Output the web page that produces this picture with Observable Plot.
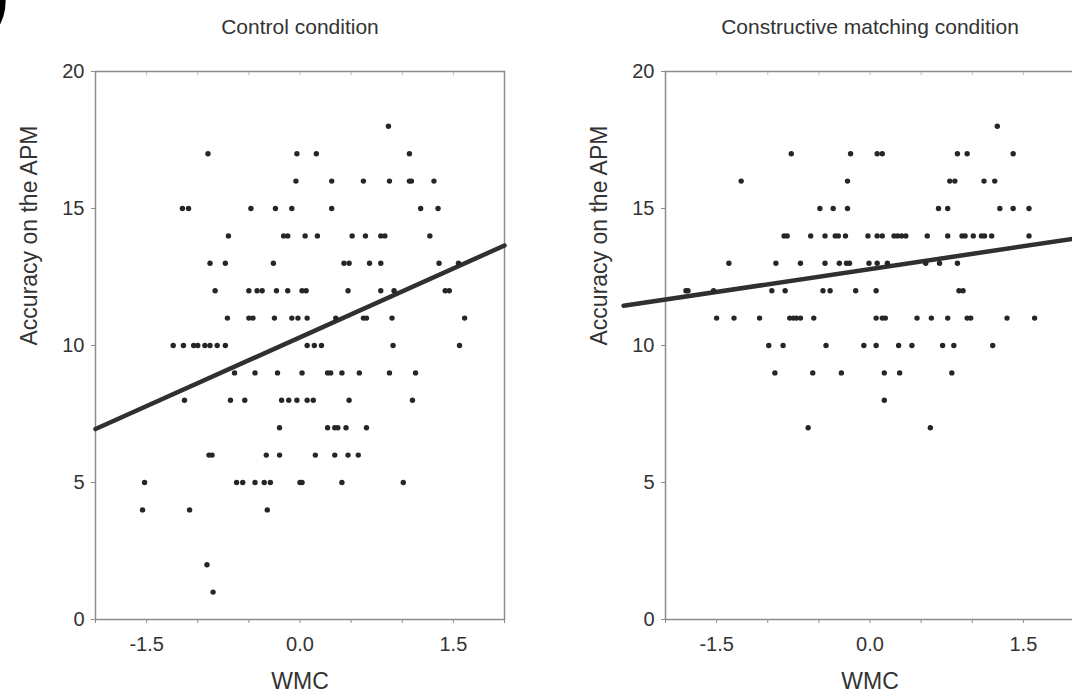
<!DOCTYPE html>
<html>
<head>
<meta charset="utf-8">
<script src="https://cdn.jsdelivr.net/npm/d3@7"></script>
<script src="https://cdn.jsdelivr.net/npm/@observablehq/plot@0.6"></script>
<style>
  html, body { margin: 0; padding: 0; background: #fff; overflow: hidden; }
  #wrap { position: relative; width: 1072px; height: 700px; overflow: hidden; background: #fff; }
  #wrap > svg, #wrap > div { position: absolute; top: 0; }
</style>
</head>
<body>
<div id="wrap"></div>
<script>
// ---- Data ----
const panelTitles = ["Control condition", "Constructive matching condition"];
const xLabel = "WMC";
const yLabel = "Accuracy on the APM";
const xTicks = [-2, -1.5, -1, -0.5, 0, 0.5, 1, 1.5, 2];
const xTickLabels = [-1.5, 0, 1.5];
const yTicks = [0, 5, 10, 15, 20];

// Control condition: WMC (x) and APM accuracy (y)
const controlWMC = [
  0.865,
  -0.90, -0.03, 0.16, 1.07,
  -0.04, 0.31, 0.62, 0.875, 1.07, 1.09, 1.31,
  -1.15, -1.09, -0.48, -0.24, -0.08, 0.31, 1.18, 1.35,
  -0.70, -0.16, -0.12, 0.05, 0.17, 0.51, 0.64, 0.79, 0.83, 1.27,
  -0.88, -0.73, -0.26, 0.43, 0.48, 0.68, 0.79, 1.36, 1.55,
  -0.83, -0.50, -0.42, -0.37, -0.23, -0.12, 0.02, 0.06, 0.47, 0.79, 0.92, 1.42, 1.46,
  -0.71, -0.50, -0.46, -0.25, -0.08, -0.02, 0.07, 0.35, 0.62, 0.65, 0.90, 1.61,
  -1.24, -1.14, -1.04, -1.00, -0.93, -0.88, -0.81, -0.73, 0.07, 0.14, 0.21, 0.91, 1.56,
  -0.64, -0.44, -0.22, 0.02, 0.27, 0.30, 0.41, 0.58, 0.875, 1.13,
  -1.13, -0.68, -0.54, -0.18, -0.11, -0.03, 0.07, 0.13, 0.48, 1.10,
  -0.20, 0.27, 0.34, 0.37, 0.45, 0.65,
  -0.89, -0.86, -0.33, -0.20, 0.15, 0.34, 0.47, 0.57,
  -1.52, -0.62, -0.56, -0.44, -0.35, -0.29, 0.00, 0.02, 0.41, 1.01,
  -1.54, -1.08, -0.32,
  -0.91,
  -0.85
];
const controlAPM = [
  18,
  17, 17, 17, 17,
  16, 16, 16, 16, 16, 16, 16,
  15, 15, 15, 15, 15, 15, 15, 15,
  14, 14, 14, 14, 14, 14, 14, 14, 14, 14,
  13, 13, 13, 13, 13, 13, 13, 13, 13,
  12, 12, 12, 12, 12, 12, 12, 12, 12, 12, 12, 12, 12,
  11, 11, 11, 11, 11, 11, 11, 11, 11, 11, 11, 11,
  10, 10, 10, 10, 10, 10, 10, 10, 10, 10, 10, 10, 10,
  9, 9, 9, 9, 9, 9, 9, 9, 9, 9,
  8, 8, 8, 8, 8, 8, 8, 8, 8, 8,
  7, 7, 7, 7, 7, 7,
  6, 6, 6, 6, 6, 6, 6, 6,
  5, 5, 5, 5, 5, 5, 5, 5, 5, 5,
  4, 4, 4,
  2,
  1
];
const controlFitX = [-2, 2];
const controlFitY = [6.95, 13.65];

// Constructive matching condition
const constructiveWMC = [
  1.245,
  -0.77, -0.19, 0.07, 0.12, 0.855, 0.95, 1.40,
  -1.26, -0.22, 0.78, 0.83, 1.115, 1.22,
  -0.49, -0.36, -0.22, 0.67, 0.76, 1.27, 1.40, 1.555,
  -0.84, -0.81, -0.58, -0.44, -0.34, -0.31, -0.24, -0.02, 0.07, 0.12, 0.235, 0.27, 0.31, 0.35, 0.56, 0.76, 0.90, 0.93, 1.01, 1.09, 1.12, 1.19, 1.555,
  -1.38, -0.92, -0.68, -0.44, -0.30, -0.23, -0.20, -0.01, 0.07, 0.17, 0.545, 0.68, 0.855,
  -1.80, -1.78, -1.53, -0.96, -0.83, -0.46, -0.39, -0.14, 0.06, 0.87, 0.91,
  -1.50, -1.33, -1.08, -0.785, -0.75, -0.72, -0.68, -0.55, 0.06, 0.12, 0.15, 0.46, 0.60, 0.76, 0.95, 0.985, 1.34, 1.61,
  -0.99, -0.85, -0.43, -0.06, 0.06, 0.28, 0.41, 0.71, 0.82, 1.20,
  -0.93, -0.56, -0.28, 0.14, 0.29, 0.80,
  0.14,
  -0.605, 0.59
];
const constructiveAPM = [
  18,
  17, 17, 17, 17, 17, 17, 17,
  16, 16, 16, 16, 16, 16,
  15, 15, 15, 15, 15, 15, 15, 15,
  14, 14, 14, 14, 14, 14, 14, 14, 14, 14, 14, 14, 14, 14, 14, 14, 14, 14, 14, 14, 14, 14, 14,
  13, 13, 13, 13, 13, 13, 13, 13, 13, 13, 13, 13, 13,
  12, 12, 12, 12, 12, 12, 12, 12, 12, 12, 12,
  11, 11, 11, 11, 11, 11, 11, 11, 11, 11, 11, 11, 11, 11, 11, 11, 11, 11,
  10, 10, 10, 10, 10, 10, 10, 10, 10, 10,
  9, 9, 9, 9, 9, 9,
  8,
  7, 7
];
const constructiveFitX = [-2.41, 2];
const constructiveFitY = [11.45, 13.90];

// ---- Drawing ----
const FONT = "'Liberation Sans', Arial, Helvetica, sans-serif";
const TEXT = "#333";
const GRID = "#8c8c8c";

function panel({title, xs, ys, fitX, fitY, width, marginLeft, marginRight}) {
  const pts = xs.map((x, i) => ({x, y: ys[i]}));
  const fit = fitX.map((x, i) => ({x, y: fitY[i]}));
  return Plot.plot({
    width, height: 700,
    marginLeft, marginRight, marginTop: 71, marginBottom: 81,
    x: {domain: [-2, 2]},
    y: {domain: [0, 20]},
    style: {fontFamily: FONT, fontSize: "20px", color: TEXT, background: "transparent", overflow: "visible"},
    marks: [
      Plot.frame({stroke: GRID, strokeWidth: 1.5}),
      Plot.axisX({
        ticks: xTicks, tickSize: 4, tickPadding: 13, stroke: GRID, fill: TEXT,
        tickFormat: d => xTickLabels.includes(d) ? d.toFixed(1) : "", label: null
      }),
      Plot.axisX({anchor: "top", ticks: xTicks.slice(1, -1), tickSize: -3, stroke: "#bbb", tickFormat: () => "", label: null}),
      Plot.axisY({ticks: yTicks, tickSize: 4, tickPadding: 7, stroke: GRID, fill: TEXT, label: null}),
      Plot.line(fit, {x: "x", y: "y", stroke: "#303030", strokeWidth: 4.5}),
      Plot.dot(pts, {x: "x", y: "y", r: 2.7, fill: "#262626", stroke: "none"}),
      Plot.text([title], {frameAnchor: "top", dy: -52, fontSize: 21, fill: TEXT}),
      Plot.text([xLabel], {frameAnchor: "bottom", dy: 69, fontSize: 23, fill: TEXT}),
      Plot.text([yLabel], {frameAnchor: "left", rotate: -90, dx: -66, fontSize: 23, fill: TEXT})
    ]
  });
}

const wrap = document.getElementById("wrap");

const left = panel({
  title: panelTitles[0], xs: controlWMC, ys: controlAPM,
  fitX: controlFitX, fitY: controlFitY,
  width: 536, marginLeft: 95, marginRight: 32
});
left.style.left = "0px";
wrap.appendChild(left);

const right = panel({
  title: panelTitles[1], xs: constructiveWMC, ys: constructiveAPM,
  fitX: constructiveFitX, fitY: constructiveFitY,
  width: 540, marginLeft: 129, marginRight: 2
});
right.style.left = "536px";
wrap.appendChild(right);

// Cropped panel letter at top-left (only its closing parenthesis is visible)
const ns = "http://www.w3.org/2000/svg";
const lab = document.createElementNS(ns, "svg");
lab.setAttribute("width", "40"); lab.setAttribute("height", "60");
lab.style.left = "0px";
const t = document.createElementNS(ns, "text");
t.setAttribute("x", "-13"); t.setAttribute("y", "17");
t.setAttribute("font-family", FONT); t.setAttribute("font-weight", "bold");
t.setAttribute("font-size", "66"); t.setAttribute("fill", "#000");
t.textContent = ")";
lab.appendChild(t);
wrap.appendChild(lab);
</script>
</body>
</html>
